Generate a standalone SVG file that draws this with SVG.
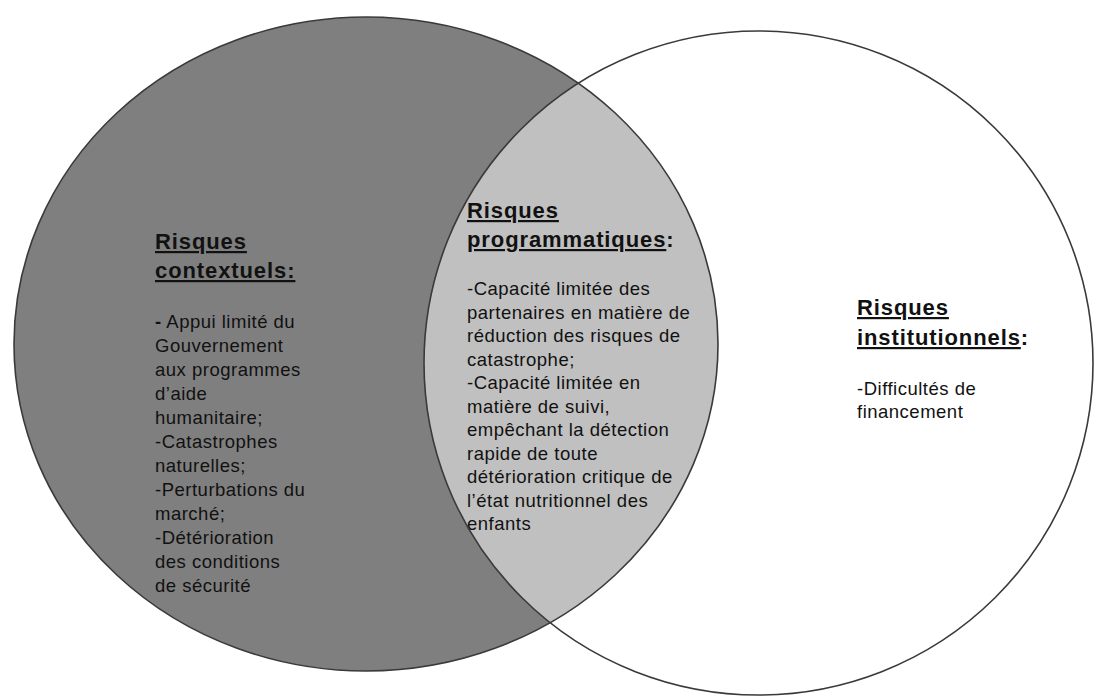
<svg xmlns="http://www.w3.org/2000/svg" width="1105" height="697" viewBox="0 0 1105 697">
<style>
.edge{fill:none;stroke:#3a3a3a;stroke-width:1.6}
.t{font-family:"Liberation Sans",Arial,sans-serif;fill:#111}
.h{font-size:22px;font-weight:bold;letter-spacing:0.9px}
.b{font-size:18.5px;letter-spacing:0.5px}
.u{text-decoration:underline}
</style>
<defs>
<clipPath id="clipLeft"><ellipse cx="366" cy="344" rx="352" ry="327"/></clipPath>
</defs>
<rect width="1105" height="697" fill="#fff"/>
<g id="contextuels">
<ellipse cx="366" cy="344" rx="352" ry="327" fill="#7f7f7f"/>
<text class="t h" x="155" y="249"><tspan class="u">Risques</tspan></text>
<text class="t h" x="155" y="278"><tspan class="u">contextuels:</tspan></text>
<text class="t b" x="155" y="328"><tspan font-weight="bold">-</tspan> Appui limité du</text>
<text class="t b" x="155" y="352">Gouvernement</text>
<text class="t b" x="155" y="376">aux programmes</text>
<text class="t b" x="155" y="400">d’aide</text>
<text class="t b" x="155" y="424">humanitaire;</text>
<text class="t b" x="155" y="448">-Catastrophes</text>
<text class="t b" x="155" y="472">naturelles;</text>
<text class="t b" x="155" y="496">-Perturbations du</text>
<text class="t b" x="155" y="520">marché;</text>
<text class="t b" x="155" y="544">-Détérioration</text>
<text class="t b" x="155" y="568">des conditions</text>
<text class="t b" x="155" y="592">de sécurité</text>
</g>
<g id="programmatiques">
<ellipse cx="758.5" cy="363" rx="334.5" ry="332" fill="#c0c0c0" clip-path="url(#clipLeft)"/>
<text class="t h" x="467" y="218"><tspan class="u">Risques</tspan></text>
<text class="t h" x="467" y="247"><tspan class="u">programmatiques</tspan>:</text>
<text class="t b" x="467" y="295">-Capacité limitée des</text>
<text class="t b" x="467" y="318.5">partenaires en matière de</text>
<text class="t b" x="467" y="342">réduction des risques de</text>
<text class="t b" x="467" y="365.5">catastrophe;</text>
<text class="t b" x="467" y="389">-Capacité limitée en</text>
<text class="t b" x="467" y="412.5">matière de suivi,</text>
<text class="t b" x="467" y="436">empêchant la détection</text>
<text class="t b" x="467" y="459.5">rapide de toute</text>
<text class="t b" x="467" y="483">détérioration critique de</text>
<text class="t b" x="467" y="506.5">l’état nutritionnel des</text>
<text class="t b" x="467" y="530">enfants</text>
</g>
<g id="connectors">
<ellipse class="edge" cx="366" cy="344" rx="352" ry="327"/>
<ellipse class="edge" cx="758.5" cy="363" rx="334.5" ry="332"/>
</g>
<g id="institutionnels">
<text class="t h" x="857" y="315"><tspan class="u">Risques</tspan></text>
<text class="t h" x="857" y="345"><tspan class="u">institutionnels</tspan>:</text>
<text class="t b" x="857" y="395">-Difficultés de</text>
<text class="t b" x="857" y="418">financement</text>
</g>
</svg>
